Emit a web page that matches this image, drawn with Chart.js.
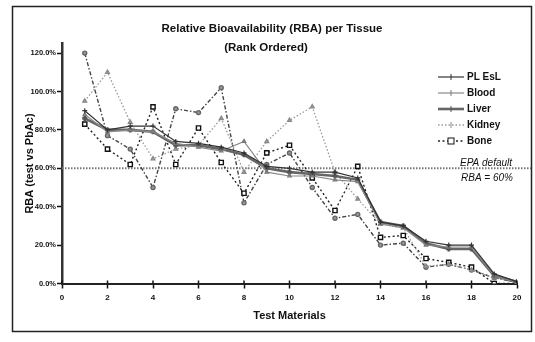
<!DOCTYPE html>
<html>
<head>
<meta charset="utf-8">
<script src="https://cdn.jsdelivr.net/npm/chart.js@4"></script>
<style>
  body { margin: 0; background: #fff; }
</style>
</head>
<body>
<canvas id="rba" width="535" height="342"></canvas>
<script>
// test materials, rank ordered
const materials = [1, 2, 3, 4, 5, 6, 7, 8, 9, 10, 11, 12, 13, 14, 15, 16, 17, 18, 19, 20];

// RBA (% of PbAc) per tissue
const plEst  = [90, 80, 82, 82, 74, 73, 71, 68, 61, 60, 58, 58, 55, 32, 30, 22, 20, 20, 5, 1];
const blood  = [88, 79, 80, 79, 73, 71, 69, 74, 58, 56, 56, 54, 53, 31, 29, 20, 19, 19, 4, 0.5];
const liver  = [86, 80, 80, 79, 72, 72, 70, 67, 60, 58, 57, 56, 54, 32, 30, 21, 18, 18, 4, 0.8];
const kidney = [95, 110, 84, 65, 70, 72, 86, 58, 74, 85, 92, 58, 44, 31, 29, 9, 10, 7, 3, 0.5];
const bone   = [83, 70, 62, 92, 62, 81, 63, 47, 68, 72, 55, 38, 61, 24, 25, 13, 11, 8.5, 0, 0];
const other  = [120, 77, 70, 50, 91, 89, 102, 42, 62, 68, 50, 34, 36, 20, 21, 8.5, 10, 7, 3, 0.5];

const yTicks = [0, 20, 40, 60, 80, 100, 120];
const epaDefault = 60;

const FONT = "'Liberation Sans Narrow', 'Arial Narrow', 'Liberation Sans', Arial, sans-serif";

const pts = vals => vals.map((v, i) => ({ x: materials[i], y: v }));

// frame, title, EPA line, legend
const decor = {
  id: 'decor',
  beforeDraw(chart) {
    const ctx = chart.ctx;
    ctx.save();
    ctx.fillStyle = '#fff';
    ctx.fillRect(0, 0, chart.width, chart.height);
    ctx.strokeStyle = '#222';
    ctx.lineWidth = 1.5;
    ctx.strokeRect(12.5, 6.5, 519, 325);
    ctx.restore();
  },
  beforeDatasetsDraw(chart) {
    const ctx = chart.ctx;
    const y = chart.scales.y.getPixelForValue(epaDefault);
    ctx.save();
    ctx.strokeStyle = '#777';
    ctx.lineWidth = 2;
    ctx.setLineDash([1.5, 1.5]);
    ctx.beginPath();
    ctx.moveTo(chart.chartArea.left, y);
    ctx.lineTo(531, y);
    ctx.stroke();
    ctx.restore();
  },
  afterDraw(chart) {
    const ctx = chart.ctx;
    const xs = chart.scales.x;
    ctx.save();
    // tick marks crossing the x axis
    ctx.strokeStyle = '#111';
    ctx.lineWidth = 1.5;
    xs.ticks.forEach(t => {
      const px = xs.getPixelForValue(t.value);
      ctx.beginPath();
      ctx.moveTo(px, chart.chartArea.bottom - 3);
      ctx.lineTo(px, chart.chartArea.bottom);
      ctx.stroke();
    });

    ctx.fillStyle = '#111';
    ctx.textAlign = 'center';
    ctx.textBaseline = 'middle';
    ctx.font = 'bold 11.5px ' + FONT;
    ctx.fillText('Relative Bioavailability (RBA) per Tissue', 272, 29);
    ctx.fillText('(Rank Ordered)', 266, 48);

    ctx.textAlign = 'left';
    ctx.font = 'italic 10px ' + FONT;
    ctx.fillText('EPA default', 460, 163);
    ctx.fillText('RBA = 60%', 461, 178);

    // legend
    chart.data.datasets.slice(0, 5).forEach((ds, i) => {
      const y = 77 + i * 16;
      ctx.strokeStyle = ds.borderColor;
      ctx.lineWidth = ds.borderWidth;
      ctx.setLineDash(ds.borderDash || []);
      ctx.beginPath();
      ctx.moveTo(438, y);
      ctx.lineTo(464, y);
      ctx.stroke();
      ctx.setLineDash([]);
      ctx.lineWidth = 1;
      ctx.strokeStyle = ds.pointBorderColor;
      ctx.fillStyle = ds.pointBackgroundColor;
      if (ds.pointStyle === 'rect') {
        ctx.fillRect(448, y - 3, 6, 6);
        ctx.strokeRect(448, y - 3, 6, 6);
      } else {
        ctx.beginPath();
        ctx.moveTo(451, y - 3);
        ctx.lineTo(451, y + 3);
        ctx.stroke();
      }
      ctx.fillStyle = '#111';
      ctx.font = 'bold 10px ' + FONT;
      ctx.textBaseline = 'middle';
      ctx.fillText(ds.label, 467, y);
    });
    ctx.restore();
  }
};

new Chart(document.getElementById('rba'), {
  type: 'line',
  data: {
    datasets: [
      { label: 'PL EsL', data: pts(plEst), borderColor: '#333', borderWidth: 1.2,
        pointStyle: 'cross', pointRadius: 2.5, pointBorderColor: '#333', pointBackgroundColor: '#333' },
      { label: 'Blood', data: pts(blood), borderColor: '#888', borderWidth: 1.2,
        pointStyle: 'triangle', pointRadius: 2, pointBorderColor: '#777', pointBackgroundColor: '#999' },
      { label: 'Liver', data: pts(liver), borderColor: '#666', borderWidth: 2.6,
        pointStyle: 'cross', pointRadius: 2.5, pointBorderColor: '#555', pointBackgroundColor: '#555' },
      { label: 'Kidney', data: pts(kidney), borderColor: '#999', borderWidth: 1.3, borderDash: [1.5, 2],
        pointStyle: 'triangle', pointRadius: 2.2, pointBorderColor: '#888', pointBackgroundColor: '#aaa' },
      { label: 'Bone', data: pts(bone), borderColor: '#222', borderWidth: 1.4, borderDash: [2, 2.5],
        pointStyle: 'rect', pointRadius: 3, pointBorderColor: '#111', pointBackgroundColor: '#fff', pointBorderWidth: 1.4 },
      { label: '', data: pts(other), borderColor: '#444', borderWidth: 1.4, borderDash: [4, 2, 1.5, 2],
        pointStyle: 'circle', pointRadius: 2, pointBorderColor: '#666', pointBackgroundColor: '#999' }
    ]
  },
  options: {
    responsive: false,
    animation: false,
    layout: { padding: { left: 14, right: 18, top: 43.5, bottom: 14 } },
    plugins: {
      legend: { display: false },
      tooltip: { enabled: false }
    },
    scales: {
      x: {
        type: 'linear', min: 0, max: 20,
        afterFit: s => { s.height = 44.5; },
        ticks: { stepSize: 2, padding: 4, color: '#111', font: { family: FONT, size: 8, weight: 'bold' } },
        grid: { drawOnChartArea: false, tickLength: 5, tickColor: '#111', tickWidth: 1.5 },
        border: { color: '#222', width: 2 },
        title: { display: true, text: 'Test Materials', color: '#111', padding: { top: 0, bottom: 5.4 },
          font: { family: FONT, size: 11, weight: 'bold' } }
      },
      y: {
        min: 0, max: 125,
        afterFit: s => { s.width = 48; },
        afterBuildTicks: s => { s.ticks = yTicks.map(v => ({ value: v })); },
        ticks: { padding: 1, color: '#111', font: { family: FONT, size: 7.5, weight: 'bold' },
          callback: v => v.toFixed(1) + '%' },
        grid: { drawOnChartArea: false, tickLength: 5, tickColor: '#111', tickWidth: 1.5 },
        border: { color: '#333', width: 2.5 },
        title: { display: true, text: 'RBA (test vs PbAc)', color: '#111', padding: { top: 9, bottom: 0 },
          font: { family: FONT, size: 11, weight: 'bold' } }
      }
    }
  },
  plugins: [decor]
});
</script>
</body>
</html>
